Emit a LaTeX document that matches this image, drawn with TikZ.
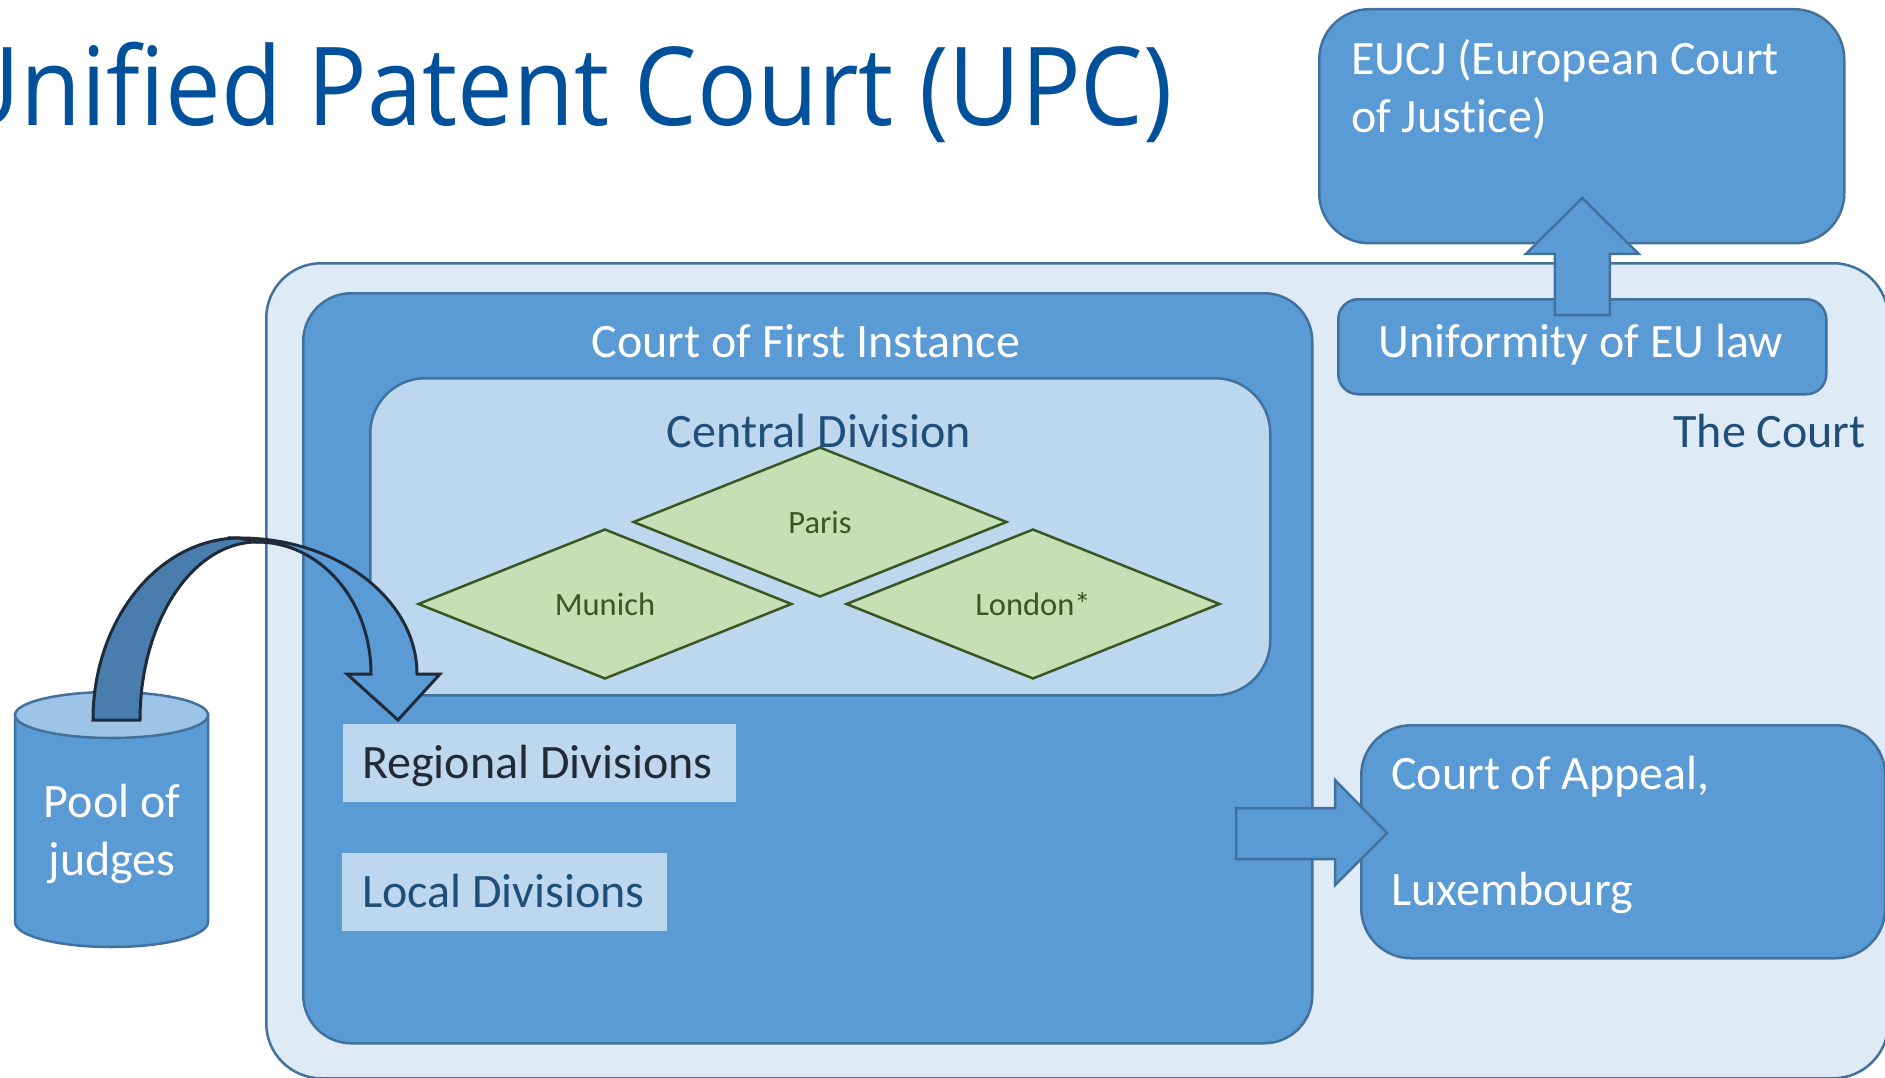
\documentclass[tikz,border=0pt]{standalone}
\usepackage{fontspec}
\setmainfont{Carlito}[Ligatures=NoCommon]
\newfontfamily\headfont{Open Sans}
\usetikzlibrary{shapes.geometric,calc}

\definecolor{upcblue}{HTML}{5B9BD5}
\definecolor{upcline}{HTML}{41719C}
\definecolor{courtfill}{HTML}{DEEBF7}
\definecolor{cdfill}{HTML}{BDD7EE}
\definecolor{upcdark}{HTML}{1F4E79}
\definecolor{upctitle}{HTML}{00509B}
\definecolor{regtext}{HTML}{222A35}
\definecolor{cityfill}{HTML}{C5E0B4}
\definecolor{citygreen}{HTML}{385723}
\definecolor{poolend}{HTML}{9DC3E6}
\definecolor{backblue}{HTML}{487DAD}
\definecolor{curveline}{HTML}{1F2B3A}

\begin{document}
\begin{tikzpicture}[x=1pt,y=-1pt,
    box/.style={draw=upcline,line width=2.5pt,fill=upcblue,inner sep=0pt,anchor=north west},
    city/.style={diamond,draw=citygreen,line width=2.5pt,fill=cityfill,inner sep=0pt,
      minimum width=374pt,minimum height=150pt,text=citygreen,font=\fontsize{32.5}{38}\selectfont},
    lbl/.style={inner sep=0pt,font=\fontsize{48}{58}\selectfont},
    tag/.style={fill=cdfill,inner sep=0pt,anchor=north west},
    blockarrow/.style={draw=upcline,line width=2.5pt,fill=upcblue,line join=miter},
    curvearrow/.style={draw=curveline,line width=3pt,line join=miter}]
  \useasboundingbox (0,0) rectangle (1885,1078);
  %the court
  \node[box,fill=courtfill,rounded corners=55pt,minimum width=1622pt,minimum height=815pt] (court) at (265,262) {};
  \node[lbl,anchor=base east,text=upcdark] (courttext) at (1866,447) {The Court};
  %first instance
  \node[box,rounded corners=48pt,minimum width=1009pt,minimum height=750pt] (cfi) at (302,292) {};
  \node[lbl,anchor=base,text=white] (cfitext) at (806,357) {Court of First Instance};
  %central division
  \node[box,fill=cdfill,rounded corners=55pt,minimum width=900pt,minimum height=317pt] (central) at (369,377) {};
  \node[lbl,anchor=base,text=upcdark] (centraltext) at (819,447) {Central Division};
  \node[city] (paris) at (820,522) {Paris};
  \node[city] (munich) at (605,604) {Munich};
  \node[city] (london) at (1033,604) {London*};
  %regional and local
  \node[tag,minimum width=393pt,minimum height=78pt] (regional) at (343,724) {};
  \node[lbl,anchor=base west,text=regtext] (regionaltext) at (362,778) {Regional Divisions};
  \node[tag,minimum width=325pt,minimum height=78pt] (local) at (342,853) {};
  \node[lbl,anchor=base west,text=upcdark] (localtext) at (362,907) {Local Divisions};
  %eu law
  \node[box,rounded corners=20pt,minimum width=488pt,minimum height=95pt] (unif) at (1337,298) {};
  \node[lbl,anchor=base,text=white] (uniftext) at (1581,357) {Uniformity of EU law};
  \node[box,rounded corners=50pt,minimum width=525pt,minimum height=234pt] (eucj) at (1318,8) {};
  \node[lbl,anchor=base west,align=left,text=white] (eucjtext) at (1351,133) {EUCJ (European Court\\of Justice)};
  \coordinate (upfoot) at ($(unif.north)+(0,17)$);
  \draw[blockarrow] (upfoot) ++(-27.5,0) -- ++(0,-61) -- ++(-29,0) -- ++(56.5,-56)
    -- ++(56.5,56) -- ++(-29,0) -- ++(0,61) -- cycle;
  %appeal
  \node[box,rounded corners=50pt,minimum width=524pt,minimum height=233pt] (appeal) at (1360,724) {};
  \node[lbl,anchor=base west,align=left,text=white] (appealtext) at (1391,905) {Court of Appeal,\\[58pt]Luxembourg};
  \coordinate (apptip) at (1387,833);
  \draw[blockarrow] (apptip) -- ++(-52,-53) -- ++(0,28) -- ++(-99,0) -- ++(0,51)
    -- ++(99,0) -- ++(0,26) -- cycle;
  %pool of judges
  \draw[draw=upcline,line width=2.5pt,fill=upcblue] (15,715) -- (15,922)
    .. controls (15,936) and (58.2,947) .. (111.5,947)
    .. controls (164.8,947) and (208,936) .. (208,922) -- (208,715) -- cycle;
  \draw[draw=upcline,line width=2.5pt,fill=poolend] (111.5,715) ellipse [x radius=96.5, y radius=23];
  \node[lbl,anchor=base,align=center,text=white] (pool) at (112,875) {Pool of\\judges};
  %curved arrow
  \draw[curvearrow,fill=backblue] (93,720) .. controls (93,619.5) and (158.8,538) .. (240,538)
    -- (257,542) .. controls (192.4,542) and (140,621.7) .. (140,720) -- cycle;
  \draw[curvearrow,fill=upcblue] (240,538) .. controls (338,538) and (417,600) .. (417,674)
    -- (440,674) -- (398,720) -- (347,674) -- (371,674)
    .. controls (371,600) and (320,542) .. (257,542) -- cycle;
  %title
  \node[anchor=base east,inner sep=0pt,text=upctitle,font=\headfont\fontsize{109}{120}\selectfont] (title) at (1173,126) {\scalebox{0.91}[1]{Unified Patent Court (UPC)}};
\end{tikzpicture}
\end{document}
